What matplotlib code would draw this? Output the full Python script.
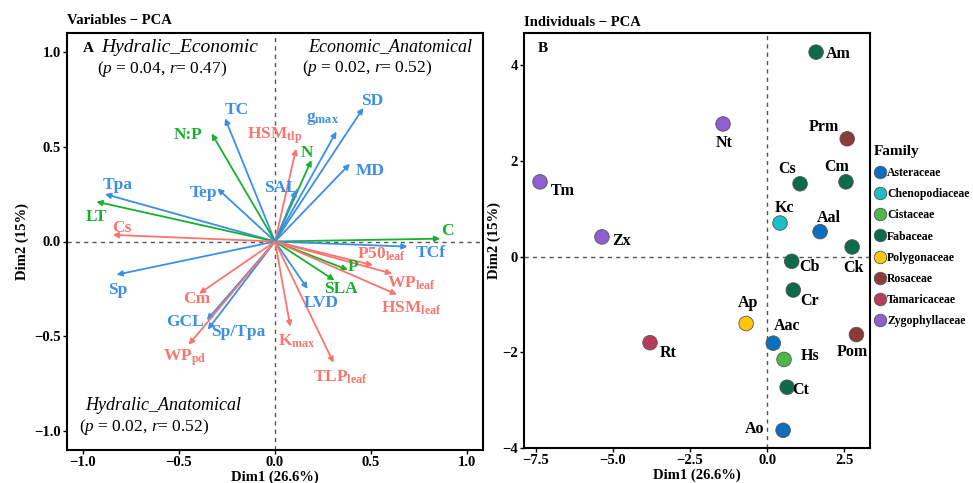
import matplotlib
matplotlib.use("Agg")
import matplotlib.pyplot as plt
from matplotlib.lines import Line2D

plt.rcParams['font.family'] = ['Liberation Serif', 'DejaVu Serif']
plt.rcParams['font.weight'] = 'bold'
plt.rcParams['mathtext.fontset'] = 'custom'
plt.rcParams['mathtext.rm'] = 'Liberation Serif:weight=normal'
plt.rcParams['mathtext.it'] = 'Liberation Serif:style=italic:weight=normal'
plt.rcParams['mathtext.bf'] = 'Liberation Serif:weight=bold'

# ---------------- Data: Panel A (variables) ----------------
var_names = ['SD', 'g$_{\\mathbf{max}}$', 'MD', 'N', 'HSM$_{\\mathbf{tlp}}$', 'SAL', 'TC', 'N:P', 'Tep',
             'Tpa', 'LT', 'Cs', 'C', 'TCf', 'P50$_{\\mathbf{leaf}}$', 'P', 'WP$_{\\mathbf{leaf}}$', 'SLA',
             'HSM$_{\\mathbf{leaf}}$', 'LVD', 'K$_{\\mathbf{max}}$', 'TLP$_{\\mathbf{leaf}}$', 'Sp', 'Cm',
             'GCL', 'Sp/Tpa', 'WP$_{\\mathbf{pd}}$']
var_dim1 = [0.46, 0.32, 0.39, 0.19, 0.11, 0.11, -0.26, -0.33, -0.30,
            -0.885, -0.93, -0.845, 0.86, 0.69, 0.51, 0.38, 0.61, 0.31,
            0.635, 0.17, 0.08, 0.305, -0.825, -0.395,
            -0.355, -0.35, -0.45]
var_dim2 = [0.705, 0.58, 0.41, 0.43, 0.49, 0.27, 0.65, 0.57, 0.28,
            0.25, 0.21, 0.035, 0.015, -0.027, -0.125, -0.15, -0.17, -0.205,
            -0.28, -0.25, -0.45, -0.64, -0.175, -0.275,
            -0.415, -0.465, -0.545]
var_group = ['Anat', 'Anat', 'Anat', 'Econ', 'Hyd', 'Anat', 'Anat', 'Econ', 'Anat',
             'Anat', 'Econ', 'Hyd', 'Econ', 'Anat', 'Hyd', 'Econ', 'Hyd', 'Econ',
             'Hyd', 'Anat', 'Hyd', 'Hyd', 'Anat', 'Hyd',
             'Anat', 'Anat', 'Hyd']
# label positions (data units) for each variable
var_lab_x = [0.505, 0.245, 0.495, 0.167, 0.0, 0.03, -0.2, -0.45, -0.37,
             -0.82, -0.93, -0.80, 0.90, 0.81, 0.555, 0.405, 0.71, 0.345,
             0.71, 0.24, 0.115, 0.34, -0.82, -0.41,
             -0.47, -0.19, -0.47]
var_lab_y = [0.74, 0.65, 0.37, 0.465, 0.56, 0.28, 0.695, 0.56, 0.255,
             0.30, 0.13, 0.073, 0.058, -0.063, -0.065, -0.135, -0.22, -0.25,
             -0.35, -0.325, -0.525, -0.715, -0.255, -0.305,
             -0.425, -0.48, -0.615]
group_colors = {'Anat': '#3b8fe6', 'Hyd': '#f8766d', 'Econ': '#17b02e'}

# ---------------- Data: Panel B (individuals) ----------------
ind_names = ['Am', 'Nt', 'Prm', 'Tm', 'Cs', 'Cm', 'Kc', 'Aal', 'Zx', 'Ck',
             'Cb', 'Cr', 'Ap', 'Pom', 'Rt', 'Aac', 'Hs', 'Ct', 'Ao']
ind_dim1 = [1.59, -1.43, 2.6, -7.37, 1.07, 2.56, 0.42, 1.72, -5.36, 2.76,
            0.8, 0.85, -0.68, 2.9, -3.8, 0.2, 0.55, 0.65, 0.52]
ind_dim2 = [4.27, 2.77, 2.46, 1.56, 1.52, 1.56, 0.7, 0.52, 0.41, 0.2,
            -0.1, -0.7, -1.4, -1.63, -1.8, -1.81, -2.15, -2.73, -3.63]
ind_family = ['Fabaceae', 'Zygophyllaceae', 'Rosaceae', 'Zygophyllaceae', 'Fabaceae',
              'Fabaceae', 'Chenopodiaceae', 'Asteraceae', 'Zygophyllaceae', 'Fabaceae',
              'Fabaceae', 'Fabaceae', 'Polygonaceae', 'Rosaceae', 'Tamaricaceae',
              'Asteraceae', 'Cistaceae', 'Fabaceae', 'Asteraceae']
families = ['Asteraceae', 'Chenopodiaceae', 'Cistaceae', 'Fabaceae',
            'Polygonaceae', 'Rosaceae', 'Tamaricaceae', 'Zygophyllaceae']
family_colors = ['#0a6fbf', '#1cc0c4', '#4cb848', '#0b6b4a',
                 '#ffc60a', '#8c3b3b', '#b83a5c', '#8d5fd0']
# label offsets in pixels (dx right, dy down)
ind_off = {'Am': (22, 2), 'Nt': (1, 19), 'Prm': (-23, -12), 'Tm': (23, 9),
           'Cs': (-13, -15), 'Cm': (-9, -15), 'Kc': (4, -15), 'Aal': (9, -14),
           'Zx': (20, 4), 'Ck': (1, 21), 'Cb': (18, 6), 'Cr': (16, 11),
           'Ap': (2, -21), 'Pom': (-4, 17), 'Rt': (18, 10), 'Aac': (14, -17),
           'Hs': (26, -3), 'Ct': (14, 3), 'Ao': (-29, -1)}

W, H = 973, 483
fig = plt.figure(figsize=(W / 100, H / 100), dpi=100)

def frac(l, t, r, b):
    return [l / W, 1 - b / H, (r - l) / W, (b - t) / H]

def style_axes(ax):
    for s in ax.spines.values():
        s.set_linewidth(1.5)
        s.set_color('black')
    ax.tick_params(direction='out', length=3, width=1.0, labelsize=10.5, pad=1.5)
    for lab in ax.get_xticklabels() + ax.get_yticklabels():
        lab.set_fontweight('bold')

# ---------------- Panel A ----------------
axA = fig.add_axes(frac(67, 33, 483, 450))
axA.set_xlim(-1.083, 1.083)
axA.set_ylim(-1.1, 1.1)
axA.axhline(0, color='#555555', ls=(0, (3, 3)), lw=1.0, zorder=1)
axA.axvline(0, color='#555555', ls=(0, (3, 3)), lw=1.0, zorder=1)
for n, x, y, g, lx, ly in zip(var_names, var_dim1, var_dim2, var_group, var_lab_x, var_lab_y):
    c = group_colors[g]
    axA.annotate('', xy=(x, y), xytext=(0, 0),
                 arrowprops=dict(arrowstyle='-|>', color=c, lw=1.3, mutation_scale=8,
                                 shrinkA=0, shrinkB=0), zorder=3)
    axA.text(lx, ly, n, color=c, fontsize=12.5, fontweight='bold', ha='center', va='center', zorder=4)
axA.set_xticks([-1.0, -0.5, 0.0, 0.5, 1.0])
axA.set_yticks([-1.0, -0.5, 0.0, 0.5, 1.0])
style_axes(axA)
axA.set_xlabel('Dim1 (26.6%)', fontsize=10.5, fontweight='bold', labelpad=1)
axA.set_ylabel('Dim2 (15%)', fontsize=10.5, fontweight='bold', labelpad=4)
fig.text(67 / W, 1 - 20 / H, 'Variables \u2212 PCA', fontsize=10.5, fontweight='bold', ha='left', va='center')

axA.text(-1.0, 1.02, 'A', fontsize=11, fontweight='bold', ha='left', va='center')
axA.text(-0.495, 1.026, 'Hydralic_Economic', fontsize=14, style='italic', fontweight='normal', ha='center', va='center')
axA.text(-0.59, 0.91, r'($\it{p}$ = 0.04, $\it{r}$= 0.47)', fontsize=12.5, fontweight='normal', ha='center', va='center')
axA.text(0.6, 1.03, 'Economic_Anatomical', fontsize=13, style='italic', fontweight='normal', ha='center', va='center')
axA.text(0.48, 0.916, r'($\it{p}$ = 0.02, $\it{r}$= 0.52)', fontsize=12.5, fontweight='normal', ha='center', va='center')
axA.text(-0.58, -0.863, 'Hydralic_Anatomical', fontsize=13, style='italic', fontweight='normal', ha='center', va='center')
axA.text(-0.68, -0.98, r'($\it{p}$ = 0.02, $\it{r}$= 0.52)', fontsize=12.5, fontweight='normal', ha='center', va='center')

# ---------------- Panel B ----------------
axB = fig.add_axes(frac(524, 33, 870, 448))
axB.set_xlim(-7.89, 3.34)
axB.set_ylim(-4.0, 4.67)
axB.axhline(0, color='#555555', ls=(0, (3, 3)), lw=1.0, zorder=1)
axB.axvline(0, color='#555555', ls=(0, (3, 3)), lw=1.0, zorder=1)
fam_col = dict(zip(families, family_colors))
cols = [fam_col[f] for f in ind_family]
axB.scatter(ind_dim1, ind_dim2, s=110, c=cols, edgecolors='#555555', linewidths=0.6, zorder=3)
for n, x, y in zip(ind_names, ind_dim1, ind_dim2):
    dx, dy = ind_off[n]
    axB.annotate(n, xy=(x, y), xytext=(dx * 0.72, -dy * 0.72), textcoords='offset points',
                 fontsize=11.5, fontweight='bold', ha='center', va='center', zorder=4)
axB.set_xticks([-7.5, -5.0, -2.5, 0.0, 2.5])
axB.set_yticks([-4, -2, 0, 2, 4])
style_axes(axB)
axB.set_xlabel('Dim1 (26.6%)', fontsize=10.5, fontweight='bold', labelpad=1)
axB.set_ylabel('Dim2 (15%)', fontsize=10.5, fontweight='bold', labelpad=1)
fig.text(524 / W, 1 - 22 / H, 'Individuals \u2212 PCA', fontsize=10.5, fontweight='bold', ha='left', va='center')
axB.text(-7.45, 4.35, 'B', fontsize=11, fontweight='bold', ha='left', va='center')

handles = [Line2D([], [], marker='o', ls='', markersize=9, markerfacecolor=c,
                  markeredgecolor='#555555', markeredgewidth=0.6) for c in family_colors]
leg = fig.legend(handles, families, loc='upper left', bbox_to_anchor=(869 / W, 1 - 140 / H),
                 frameon=False, title='Family', handletextpad=0.15, labelspacing=0.78,
                 borderaxespad=0, handlelength=1.0, prop={'size': 8.5, 'weight': 'bold'},
                 title_fontproperties={'size': 11, 'weight': 'bold'})
leg._legend_box.align = 'left'

fig.savefig('out.png', dpi=100)
